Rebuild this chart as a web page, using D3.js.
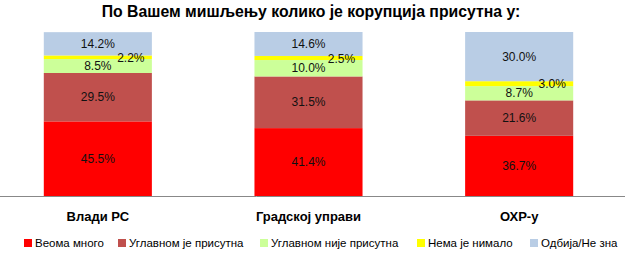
<!DOCTYPE html>
<html><head><meta charset="utf-8">
<script src="https://cdn.jsdelivr.net/npm/d3@7"></script>
<style>
body{margin:0;background:#fff;}
svg{display:block;font-family:"Liberation Sans",Arial,sans-serif;}
</style></head>
<body><svg id="c" width="638" height="254"></svg>
<script>
const title = "По Вашем мишљењу колико је корупција присутна у:";
const categories = ["Влади РС", "Градској управи", "ОХР-у"];
const seriesNames = ["Веома много", "Углавном је присутна", "Углавном није присутна", "Нема је нимало", "Одбија/Не зна"];
const seriesColors = ["#FF0000", "#C0504D", "#CCFF99", "#FFFF00", "#B9CDE5"];
const veomaMnogo = [45.5, 41.4, 36.7];
const uglavnomJe = [29.5, 31.5, 21.6];
const uglavnomNije = [8.5, 10.0, 8.7];
const nemaNimalo = [2.2, 2.5, 3.0];
const odbija = [14.2, 14.6, 30.0];

const seriesValues = [veomaMnogo, uglavnomJe, uglavnomNije, nemaNimalo, odbija];
const rows = categories.map((c, i) => {
  const r = {cat: c};
  seriesNames.forEach((s, j) => r[s] = seriesValues[j][i]);
  return r;
});

const svg = d3.select("#c");
const x = d3.scaleBand().domain(categories).range([-7.5, 624.5]).paddingInner(0.487).paddingOuter(0.2435);
const y = d3.scaleLinear().domain([0, 100]).range([196, 32]);

const stacked = d3.stack().keys(seriesNames)(rows);

svg.append("text").attr("x", 311).attr("y", 17).attr("text-anchor", "middle")
  .attr("font-weight", "bold").attr("font-size", 15.8).attr("fill", "#000").text(title);

const g = svg.append("g");
stacked.forEach((layer, j) => {
  g.selectAll(null).data(layer).enter().append("rect")
    .attr("x", d => x(d.data.cat))
    .attr("width", x.bandwidth())
    .attr("y", d => y(d[1]))
    .attr("height", d => y(d[0]) - y(d[1]))
    .attr("fill", seriesColors[j]);
});

// labels
stacked.forEach((layer, j) => {
  g.selectAll(null).data(layer).enter().append("text")
    .attr("x", d => x(d.data.cat) + x.bandwidth() / 2 + (j === 3 ? 33 : 0))
    .attr("y", d => (y(d[0]) + y(d[1])) / 2 + (j === 3 ? 0.5 : 0))
    .attr("dy", "0.35em")
    .attr("text-anchor", "middle")
    .attr("font-size", 12)
    .attr("fill", "#111")
    .text(d => (d[1] - d[0]).toFixed(1) + "%");
});

// x axis
svg.append("line").attr("x1", 0).attr("x2", 625).attr("y1", 196.5).attr("y2", 196.5)
  .attr("stroke", "#888").attr("stroke-width", 1);
const xAxis = d3.axisBottom(x).tickSize(0).tickPadding(0);
const ax = svg.append("g").attr("transform", "translate(0,196)").call(xAxis);
ax.select(".domain").remove();
ax.selectAll("text").attr("y", 25).attr("dy", 0).attr("font-size", 13).attr("font-weight", "bold")
  .attr("fill", "#000").attr("font-family", "Liberation Sans, Arial, sans-serif");

// legend
const legendX = [24, 118, 260, 417, 530];
const lg = svg.append("g");
seriesNames.forEach((s, j) => {
  lg.append("rect").attr("x", legendX[j]).attr("y", 239).attr("width", 8).attr("height", 8).attr("fill", seriesColors[j]);
  lg.append("text").attr("x", legendX[j] + 11).attr("y", 247).attr("font-size", 11.5).attr("fill", "#000").text(s);
});
</script></body></html>
